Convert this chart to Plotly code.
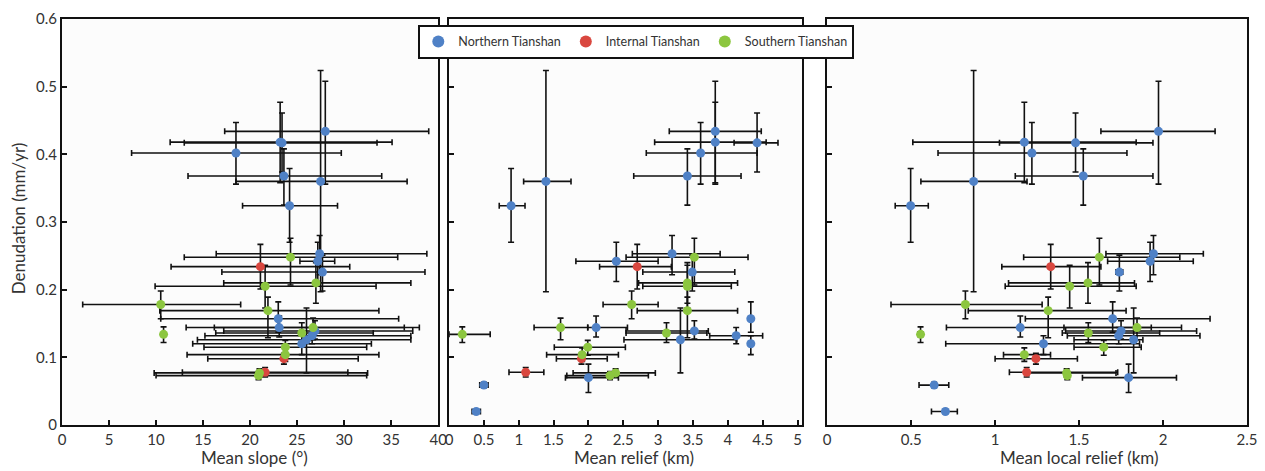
import plotly.graph_objects as go

# ---------------- data ----------------
# Northern Tianshan
n_den      = [0.324, 0.360, 0.368, 0.402, 0.418, 0.417, 0.434, 0.253, 0.242, 0.226, 0.157, 0.144, 0.139, 0.132, 0.126, 0.120, 0.070, 0.059, 0.020]
n_den_lo   = [0.270, 0.197, 0.325, 0.356, 0.358, 0.374, 0.356, 0.222, 0.212, 0.198, 0.137, 0.130, 0.127, 0.120, 0.077, 0.104, 0.048, 0.055, 0.017]
n_den_hi   = [0.379, 0.524, 0.408, 0.447, 0.477, 0.461, 0.508, 0.280, 0.270, 0.251, 0.182, 0.161, 0.154, 0.144, 0.173, 0.132, 0.090, 0.063, 0.023]
n_slope    = [24.2, 27.5, 23.6, 18.5, 23.2, 23.4, 28.0, 27.4, 27.2, 27.7, 23.0, 23.1, 26.9, 26.6, 26.0, 25.5, None, None, None]
n_slope_lo = [19.2, 18.5, 13.4, 7.4, 11.5, 13.0, 17.3, 16.4, 25.3, 17.0, 10.5, 13.2, 17.2, 15.2, 14.4, 13.9, None, None, None]
n_slope_hi = [29.3, 36.7, 34.0, 29.7, 35.1, 33.5, 39.0, 38.8, 29.0, 38.6, 35.8, 36.4, 37.3, 37.1, 37.1, 32.9, None, None, None]
n_rel      = [0.89, 1.39, 3.42, 3.61, 3.82, 4.42, 3.82, 3.20, 2.40, 3.49, 4.33, 2.11, 3.52, 4.12, 3.32, 4.33, 2.00, 0.50, 0.39]
n_rel_lo   = [0.72, 1.07, 2.65, 2.83, 2.95, 4.09, 3.16, 2.63, 1.82, 2.78, 4.30, 1.99, 2.54, 3.74, 2.51, 4.30, 1.67, 0.44, 0.33]
n_rel_hi   = [1.09, 1.75, 4.19, 4.42, 4.55, 4.72, 4.48, 3.89, 3.00, 4.10, 4.36, 2.56, 3.72, 4.50, 4.13, 4.36, 2.43, 0.56, 0.45]
n_loc      = [0.497, 0.872, 1.525, 1.219, 1.174, 1.479, 1.973, 1.943, 1.923, 1.740, 1.700, 1.150, 1.750, 1.736, 1.825, 1.288, 1.795, 0.637, 0.704]
n_loc_lo   = [0.405, 0.558, 1.120, 0.660, 0.510, 1.026, 1.630, 1.660, 1.670, 1.720, 1.180, 0.710, 1.420, 1.430, 1.470, 0.706, 1.520, 0.547, 0.621]
n_loc_hi   = [0.602, 1.190, 1.940, 1.785, 1.840, 1.940, 2.310, 2.240, 2.180, 1.760, 2.280, 1.930, 2.200, 2.220, 1.880, 1.860, 2.080, 0.724, 0.775]

# Internal Tianshan
i_den      = [0.234, 0.098, 0.078]
i_den_lo   = [0.201, 0.090, 0.071]
i_den_hi   = [0.267, 0.106, 0.085]
i_slope    = [21.1, 23.6, 21.6]
i_slope_lo = [11.6, 15.5, 12.8]
i_slope_hi = [30.6, 31.5, 30.4]
i_rel      = [2.70, 1.90, 1.10]
i_rel_lo   = [2.16, 1.54, 0.86]
i_rel_hi   = [3.19, 2.27, 1.36]
i_loc      = [1.331, 1.243, 1.188]
i_loc_lo   = [1.040, 1.000, 1.085]
i_loc_hi   = [1.630, 1.490, 1.730]

# Southern Tianshan
s_den      = [0.248, 0.210, 0.205, 0.178, 0.169, 0.144, 0.134, 0.136, 0.115, 0.104, 0.077, 0.073]
s_den_lo   = [0.207, 0.180, 0.173, 0.157, 0.129, 0.126, 0.122, 0.122, 0.103, 0.094, 0.071, 0.067]
s_den_hi   = [0.276, 0.240, 0.236, 0.198, 0.189, 0.158, 0.145, 0.151, 0.125, 0.114, 0.083, 0.079]
s_slope    = [24.3, 27.0, 21.6, 10.5, 21.9, 26.7, 10.8, 25.5, 23.75, 23.75, 21.0, 20.9]
s_slope_lo = [13.0, 17.2, 9.9, 2.2, 10.4, 16.2, 10.8, 16.35, 15.1, 13.3, 9.8, 10.0]
s_slope_hi = [35.7, 37.1, 33.4, 19.0, 33.7, 38.0, 10.8, 33.1, 32.4, 33.7, 32.5, 32.4]
s_rel      = [3.52, 3.42, 3.42, 2.62, 3.42, 1.60, 0.19, 3.12, 1.99, 1.91, 2.39, 2.31]
s_rel_lo   = [2.54, 2.72, 2.78, 2.21, 2.70, 1.22, 0.00, 2.54, 1.51, 1.40, 1.78, 1.69]
s_rel_hi   = [4.29, 4.14, 4.05, 3.00, 4.14, 1.99, 0.59, 3.70, 2.53, 2.43, 2.96, 2.86]
s_loc      = [1.621, 1.553, 1.444, 0.823, 1.316, 1.845, 0.556, 1.555, 1.647, 1.174, 1.426, 1.430]
s_loc_lo   = [1.170, 1.080, 1.060, 0.380, 0.840, 1.410, 0.540, 1.400, 1.470, 1.050, 1.200, 1.420]
s_loc_hi   = [2.100, 1.830, 1.840, 1.280, 1.780, 2.110, 0.570, 1.980, 1.870, 1.330, 1.720, 1.440]

regions = ["Northern Tianshan", "Internal Tianshan", "Southern Tianshan"]
colors = ["#4f81c6", "#d9473f", "#8cc63f"]
x_titles = ["Mean slope (°)", "Mean relief (km)", "Mean local relief (km)"]
y_title = "Denudation (mm/yr)"

# ---------------- figure ----------------
def plus(v, hi):
    return [0 if a is None else b - a for a, b in zip(v, hi)]

def minus(v, lo):
    return [0 if a is None else a - b for a, b in zip(v, lo)]

groups = [
    (n_den, n_den_lo, n_den_hi, [(n_slope, n_slope_lo, n_slope_hi), (n_rel, n_rel_lo, n_rel_hi), (n_loc, n_loc_lo, n_loc_hi)]),
    (i_den, i_den_lo, i_den_hi, [(i_slope, i_slope_lo, i_slope_hi), (i_rel, i_rel_lo, i_rel_hi), (i_loc, i_loc_lo, i_loc_hi)]),
    (s_den, s_den_lo, s_den_hi, [(s_slope, s_slope_lo, s_slope_hi), (s_rel, s_rel_lo, s_rel_hi), (s_loc, s_loc_lo, s_loc_hi)]),
]

fig = go.Figure()
axes = [("x", "y"), ("x2", "y2"), ("x3", "y3")]

# error-bar layer first
for p, (xa, ya) in enumerate(axes):
    for g, (den, dlo, dhi, xs) in enumerate(groups):
        xv, xlo, xhi = xs[p]
        fig.add_trace(go.Scatter(
            x=xv, y=den, xaxis=xa, yaxis=ya, mode="markers",
            marker=dict(size=8, color=colors[g], opacity=0),
            error_x=dict(type="data", symmetric=False, array=plus(xv, xhi), arrayminus=minus(xv, xlo),
                         color="#111111", thickness=1.6, width=3),
            error_y=dict(type="data", symmetric=False, array=plus(den, dhi), arrayminus=minus(den, dlo),
                         color="#111111", thickness=1.6, width=3),
            showlegend=False, hoverinfo="skip"))

# marker layer on top
for p, (xa, ya) in enumerate(axes):
    for g, (den, dlo, dhi, xs) in enumerate(groups):
        xv = xs[p][0]
        fig.add_trace(go.Scatter(
            x=xv, y=den, xaxis=xa, yaxis=ya, mode="markers",
            marker=dict(size=9, color=colors[g], line=dict(width=0)),
            name=regions[g], legendgroup=regions[g], showlegend=(p == 1)))

W, H = 1265, 471
ml, mr, mt, mb = 62, 9, 15, 46
pw = W - ml - mr
ph = H - mt - mb
def dom(a, b):
    return [(a - ml) / pw, (b - ml) / pw]
def px_x(v):
    return (v - ml) / pw
def px_y(v):
    return (H - mb - v) / ph

TXT = "#333333"
font = dict(family="Lato, 'Open Sans', sans-serif", size=15, color=TXT)
axis_common = dict(showline=True, mirror=True, linewidth=2, linecolor="#111111",
                   ticks="inside", ticklen=5, tickwidth=2, tickcolor="#111111",
                   showgrid=False, zeroline=False, tickfont=dict(size=15, color=TXT))

xr = [[0, 40], [0, 5.07], [0, 2.5]]
xd = [dom(62, 441), dom(452, 808), dom(833, 1256)]
xt = [[0, 5, 10, 15, 20, 25, 30, 35, 40],
      [0, 0.5, 1, 1.5, 2, 2.5, 3, 3.5, 4, 4.5, 5],
      [0, 0.5, 1, 1.5, 2, 2.5]]
title_cx = [256, 638, 1087]

layout = dict(
    width=W, height=H, margin=dict(l=ml, r=mr, t=mt, b=mb),
    paper_bgcolor="white", plot_bgcolor="#fcfcfc", font=font,
    legend=dict(orientation="h", x=px_x(421), y=px_y(21),
                xanchor="left", yanchor="top", bgcolor="white", bordercolor="#111111",
                borderwidth=2, font=dict(size=12.5, color=TXT),
                tracegroupgap=0, itemsizing="constant"),
)
for i in range(3):
    sfx = "" if i == 0 else str(i + 1)
    layout["xaxis" + sfx] = dict(axis_common, domain=xd[i], range=xr[i], tickvals=xt[i],
                                 anchor="y" + sfx)
    layout["yaxis" + sfx] = dict(axis_common, domain=[0, 1], range=[0, 0.6], anchor="x" + sfx,
                                 tickvals=[0, 0.1, 0.2, 0.3, 0.4, 0.5, 0.6],
                                 showticklabels=(i == 0))
fig.update_layout(**layout)

ann = []
for i in range(3):
    ann.append(dict(text=x_titles[i], xref="paper", yref="paper", x=px_x(title_cx[i]), y=px_y(458),
                    xanchor="center", yanchor="middle", showarrow=False,
                    font=dict(size=17, color=TXT)))
ann.append(dict(text=y_title, xref="paper", yref="paper", x=px_x(18), y=px_y(216),
                xanchor="center", yanchor="middle", showarrow=False, textangle=-90,
                font=dict(size=17, color=TXT)))
fig.update_layout(annotations=ann)

fig.write_html("out.html")
